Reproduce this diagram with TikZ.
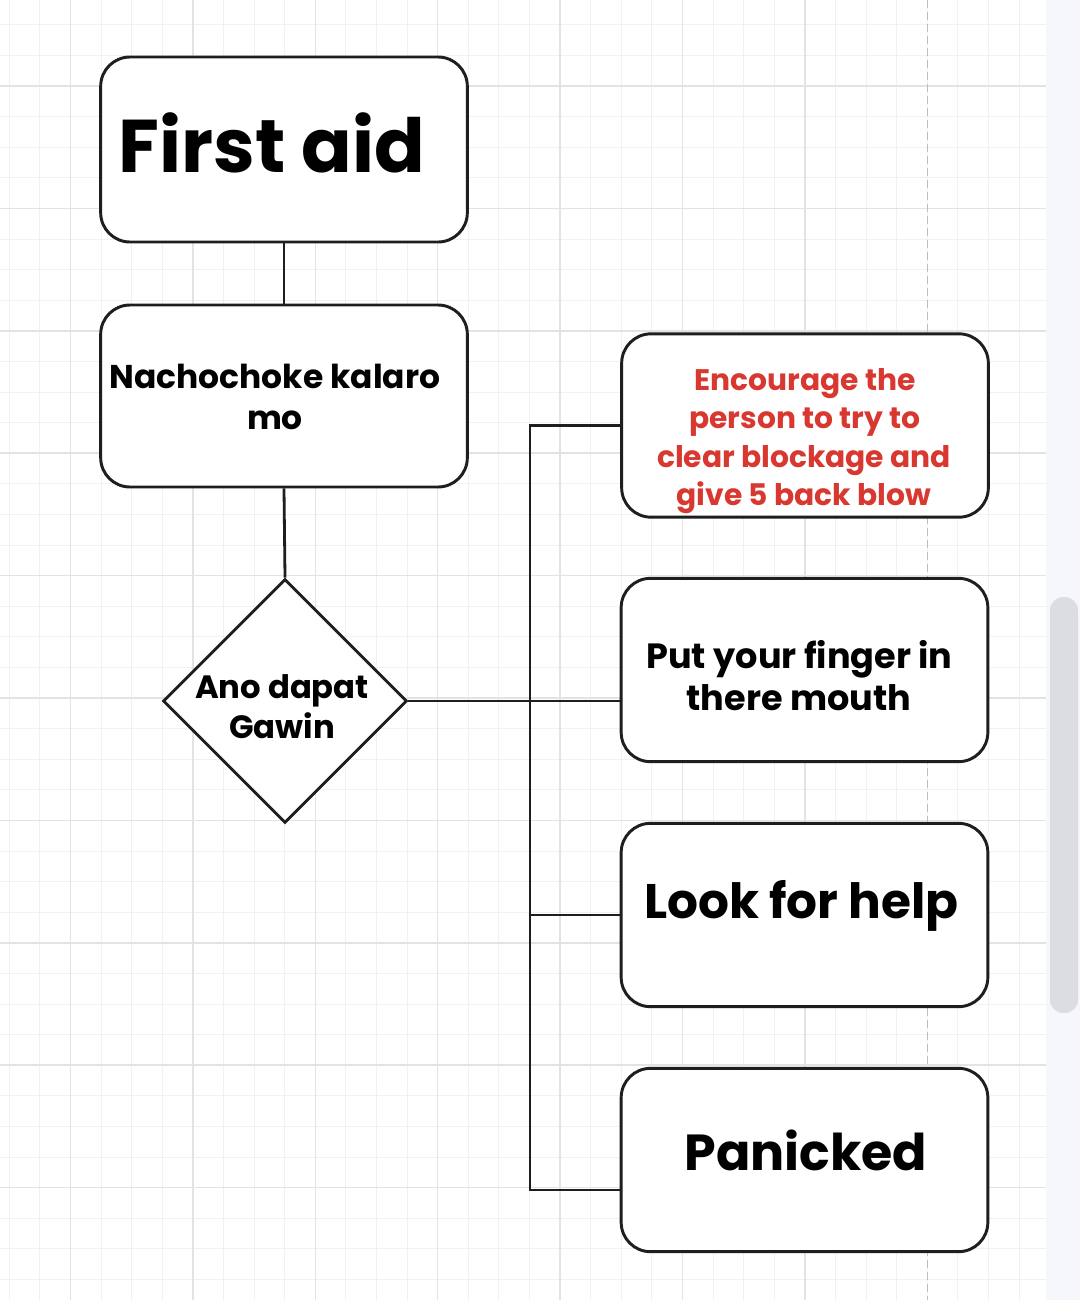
\documentclass[tikz,border=0pt]{standalone}
\usepackage{fontspec}
\setmainfont{Poppins}
\usetikzlibrary{shapes.geometric}
\definecolor{gridminor}{HTML}{F1F1F1}
\definecolor{gridmajor}{HTML}{E3E3E3}
\definecolor{inkc}{HTML}{1E1E1E}
\definecolor{redtxt}{HTML}{D8382F}
\definecolor{sidebar}{HTML}{F6F7FB}
\definecolor{thumb}{HTML}{DCDDE2}
\definecolor{pagebrk}{HTML}{BDBDBD}
\begin{document}
\begin{tikzpicture}[x=0.75pt,y=-0.75pt,
  box/.style={draw=inkc, line width=2.2pt, rounded corners=22pt, fill=white, inner sep=0pt, minimum width=275pt, minimum height=137.5pt},
  dec/.style={draw=inkc, line width=2.2pt, fill=white, diamond, inner sep=0pt, minimum width=183pt, minimum height=183pt},
  link/.style={draw=inkc, line width=2.1pt},
  txt/.style={anchor=base, inner sep=0pt, text=black},
  redt/.style={anchor=base, inner sep=0pt, text=redtxt},
  fnt/.style={font=\fontsize{#1}{#1}\selectfont\bfseries}
]
\useasboundingbox (0,0) rectangle (1080,1300);
\fill[white] (0,0) rectangle (1080,1300);
% grid
\foreach \k in {-2,...,31} { \draw[gridminor, line width=0.75pt] ({70.5+30.6*\k},0) -- ({70.5+30.6*\k},1300); }
\foreach \k in {-2,...,39} { \draw[gridminor, line width=0.75pt] (0,{86+30.6*\k}) -- (1046,{86+30.6*\k}); }
\foreach \m in {0,...,6} { \draw[gridmajor, line width=1.1pt] ({70.5+122.4*\m},0) -- ({70.5+122.4*\m},1300); }
\foreach \m in {0,...,9} { \draw[gridmajor, line width=1.1pt] (0,{86+122.4*\m}) -- (1046,{86+122.4*\m}); }
\draw[pagebrk, line width=1.2pt, dash pattern=on 6pt off 3pt] (927.3,0) -- (927.3,1300);
\fill[sidebar] (1046,0) rectangle (1080,1300);
\fill[thumb, rounded corners=10pt] (1050,597) rectangle (1078,1013);

% nodes
\node[box, minimum height=138.75pt] (fa) at (284,149.5) {};
\node[box, minimum height=136.5pt] (nc) at (284,396) {};
\node[dec] (dm) at (285,701) {};
\node[box] (b1) at (805,425.5) {};
\node[box] (b2) at (804.5,670) {};
\node[box] (b3) at (804.5,915) {};
\node[box] (b4) at (804.5,1160) {};

% connectors
\coordinate (jt) at (530,425.5);
\coordinate (jb) at (530,1190);
\draw[link] (fa.south) -- (nc.north);
\draw[link] (nc.south) -- (dm.north);
\draw[link] (dm.east) -- (dm.east -| b2.west);
\draw[link] (b1.west |- jt) -- (jt) -- (jb) -- (jb -| b4.west);
\draw[link] (jt |- b3.west) -- (b3.west);

% texts
\node[txt, fnt=56pt] (tfa) at (272,172) {First aid};
\node[txt, fnt=24.7pt] (tnc1) at (275,388) {Nachochoke kalaro};
\node[txt, fnt=24.7pt] (tnc2) at (275,429) {mo};
\node[txt, fnt=24.2pt] (tdm1) at (282,698) {Ano dapat};
\node[txt, fnt=24.2pt] (tdm2) at (282,738) {Gawin};
\node[redt, fnt=22.3pt] (tb1a) at (805,390) {Encourage the};
\node[redt, fnt=22.3pt] (tb1b) at (805,428) {person to try to};
\node[redt, fnt=22.3pt] (tb1c) at (804,467) {clear blockage and};
\node[redt, fnt=22.3pt] (tb1d) at (804,505) {give 5 back blow};
\node[txt, fnt=26.3pt] (tb2a) at (799.5,668) {Put your finger in};
\node[txt, fnt=26.3pt] (tb2b) at (799,710) {there mouth};
\node[txt, fnt=36.4pt] (tb3) at (801.5,918) {Look for help};
\node[txt, fnt=38pt] (tb4) at (806,1170) {Panicked};
\end{tikzpicture}
\end{document}
